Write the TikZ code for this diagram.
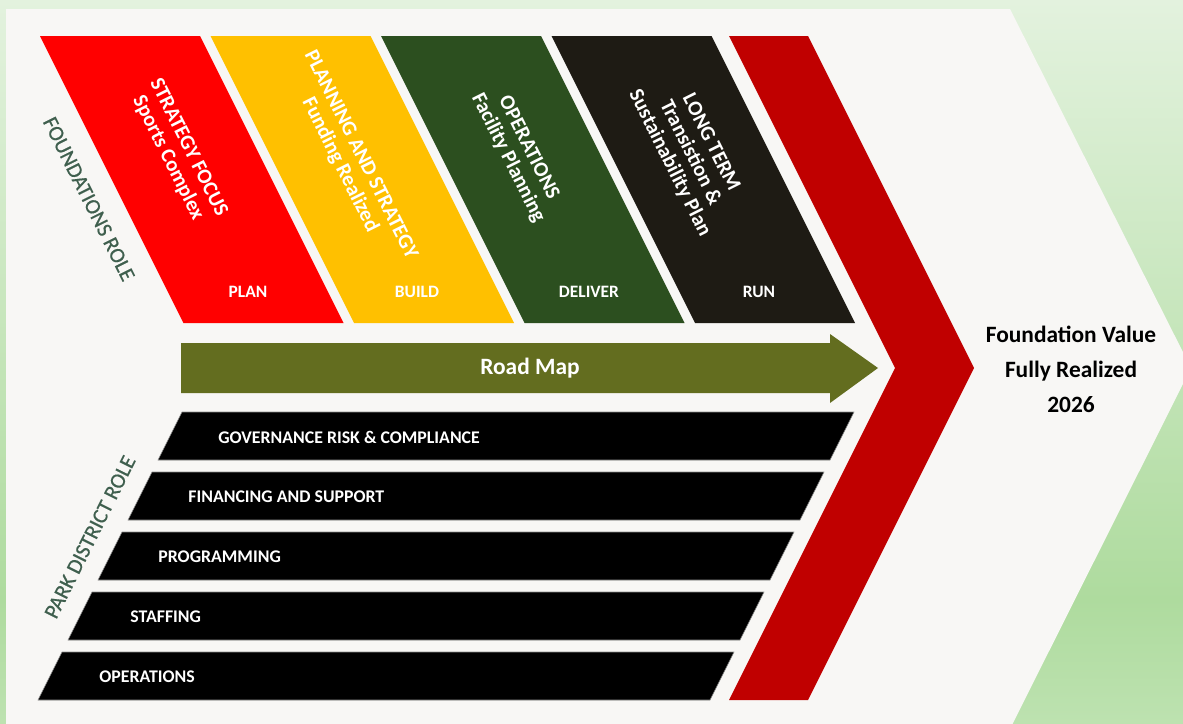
\documentclass[tikz,border=0pt]{standalone}
\usepackage{fontspec}
\setmainfont{Carlito}
\newfontfamily\rolefont[FakeBold=0.6]{Carlito}
\usepackage{tikz}

\definecolor{bgtop}{HTML}{E3F2DE}
\definecolor{bgmid}{HTML}{AEDB9E}
\definecolor{bgbot}{HTML}{BDE2B0}
\definecolor{panel}{HTML}{F8F7F5}
\definecolor{planred}{HTML}{FF0000}
\definecolor{buildyellow}{HTML}{FFC000}
\definecolor{delivergreen}{HTML}{2C4F1F}
\definecolor{rundark}{HTML}{1E1B14}
\definecolor{chevred}{HTML}{C00000}
\definecolor{roadolive}{HTML}{636D1F}
\definecolor{rolegreen}{HTML}{3F5F4E}

\begin{document}
\begin{tikzpicture}[x=0.5pt, y=-0.5pt, inner sep=0pt,
    phase/.style={text=white, font=\fontsize{8.7}{10}\selectfont\bfseries},
    focus/.style={text=white, align=center, rotate=-63.43,
                  font=\fontsize{10.5}{11.5}\selectfont\bfseries},
    bartext/.style={text=white, anchor=west, font=\fontsize{8.9}{10}\selectfont\bfseries},
    role/.style={text=rolegreen, font=\fontsize{10.8}{12}\rolefont}]
    \useasboundingbox (0,0) rectangle (1183,723);

    % 背景渐变
    \shade[top color=bgtop, bottom color=bgmid] (0,0) rectangle (1183,600);
    \shade[top color=bgmid, bottom color=bgbot] (0,599) rectangle (1183,723);
    \fill[panel] (6,9) -- (1010,9) -- (1191,368) -- (1011,727) -- (6,727) -- cycle;

    % 上方四个阶段
    \foreach \c [count=\i from 0] in {planred,buildyellow,delivergreen,rundark}
        \fill[\c] ({40+170.5*\i},36) -- ++(160,0) -- ++(143.5,287) -- ++(-160,0) -- cycle;

    \node[focus] (strategy) at (178,153) {STRATEGY FOCUS\\Sports Complex};
    \node[focus] (planning) at (350,160) {PLANNING AND STRATEGY\\Funding Realized};
    \node[focus] (operations) at (518,153) {OPERATIONS\\Facility Planning};
    \node[focus] (longterm) at (690,153) {LONG TERM\\Transistion \&\\Sustainability Plan};

    \node[phase] (plan) at (248,292) {PLAN};
    \node[phase] (build) at (417,292) {BUILD};
    \node[phase] (deliver) at (589,292) {DELIVER};
    \node[phase] (run) at (759,292) {RUN};

    % 红色尖角
    \fill[chevred] (729,36) -- (808,36) -- (974,368) -- (808,700) -- (729,700) -- (895,368) -- cycle;

    % 路线图箭头
    \fill[roadolive] (181,343) -- (830,343) -- (830,334) -- (878,368)
                     -- (830,403) -- (830,393) -- (181,393) -- cycle;
    \node[text=white, font=\fontsize{11.7}{14}\selectfont\bfseries] (roadmap) at (530,368) {Road Map};

    % 下方五条
    \foreach \k in {0,...,4}
        \filldraw[draw=black!45, line width=0.3pt] ({182-30*\k},{412+60*\k}) -- ++(672,0)
            -- ++(-24,48) -- ++(-672,0) -- cycle;

    \node[bartext] (gov) at (218,437) {GOVERNANCE RISK \& COMPLIANCE};
    \node[bartext] (fin) at (188,497) {FINANCING AND SUPPORT};
    \node[bartext] (prog) at (158,557) {PROGRAMMING};
    \node[bartext] (staff) at (130,617) {STAFFING};
    \node[bartext] (ops) at (99,677) {OPERATIONS};

    % 两侧角色
    \node[role, rotate=-63.43] (fdnrole) at (89,199) {FOUNDATIONS ROLE};
    \node[role, rotate=63.43] (parkrole) at (90,537) {PARK DISTRICT ROLE};

    % 结果
    \node[align=center, font=\fontsize{11.7}{17.5}\selectfont\bfseries] (value) at (1071,369)
        {Foundation Value\\Fully Realized\\2026};
\end{tikzpicture}
\end{document}
